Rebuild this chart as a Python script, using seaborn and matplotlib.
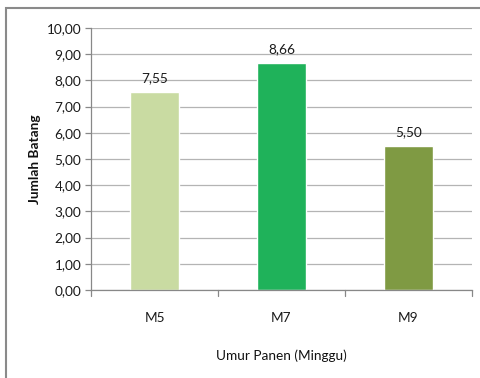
import matplotlib
matplotlib.use("Agg")
import matplotlib.pyplot as plt
from matplotlib.patches import Rectangle
import seaborn as sns
import pandas as pd

categories = ["M5", "M7", "M9"]
values = [7.55, 8.66, 5.50]
bar_colors = ["#C9DBA2", "#1FB25A", "#7F9A43"]
y_ticks = [0, 1, 2, 3, 4, 5, 6, 7, 8, 9, 10]

df = pd.DataFrame({"umur": categories, "jumlah": values})

sns.set_theme(style="white")
plt.rcParams["font.family"] = ["Lato", "DejaVu Sans"]

W, H = 480, 378
fig = plt.figure(figsize=(W / 100, H / 100), dpi=100)
ax = fig.add_axes([91 / W, 1 - 290 / H, (472 - 91) / W, (290 - 28) / H])

sns.barplot(data=df, x="umur", y="jumlah", hue="umur", palette=bar_colors,
            width=0.39, legend=False, ax=ax, saturation=1)

fs = 9.8
ax.set_ylim(0, 10)
ax.set_xlim(-0.5, 2.5)
ax.set_yticks(y_ticks)
ax.set_yticklabels([f"{v:.2f}".replace(".", ",") for v in y_ticks], fontsize=fs, color="#1A1A1A")
ax.yaxis.grid(True, color="#B4B4B4", linewidth=0.9)
ax.set_axisbelow(True)

# category separators as tick marks on the x axis
ax.set_xticks([0, 1, 2])
ax.set_xticklabels(categories, fontsize=fs, color="#1A1A1A")
ax.tick_params(axis="x", length=0, pad=16)
ax.tick_params(axis="y", length=4, color="#888888", width=0.9, left=True, pad=3)
for b in [-0.5, 0.5, 1.5, 2.5]:
    ax.plot([b, b], [0, -0.24], color="#888888", linewidth=0.9, clip_on=False)

for s in ["top", "right"]:
    ax.spines[s].set_visible(False)
for s in ["left", "bottom"]:
    ax.spines[s].set_color("#888888")
    ax.spines[s].set_linewidth(0.9)

for i, v in enumerate(values):
    ax.text(i, v + 0.3, f"{v:.2f}".replace(".", ","), ha="center", va="bottom",
            fontsize=fs, color="#1A1A1A")

ax.set_xlabel("Umur Panen (Minggu)", fontsize=fs, color="#111111", labelpad=18)
ax.set_ylabel("Jumlah Batang", fontsize=fs, fontweight="bold", color="#111111", labelpad=4)

# outer chart frame
fig.patches.append(Rectangle((6 / W, -0.1), 1.2, 1 - 8 / H + 0.1, transform=fig.transFigure,
                             fill=False, edgecolor="#8A8A8A", linewidth=1.5))

fig.savefig("out.png", dpi=100, facecolor="white")
